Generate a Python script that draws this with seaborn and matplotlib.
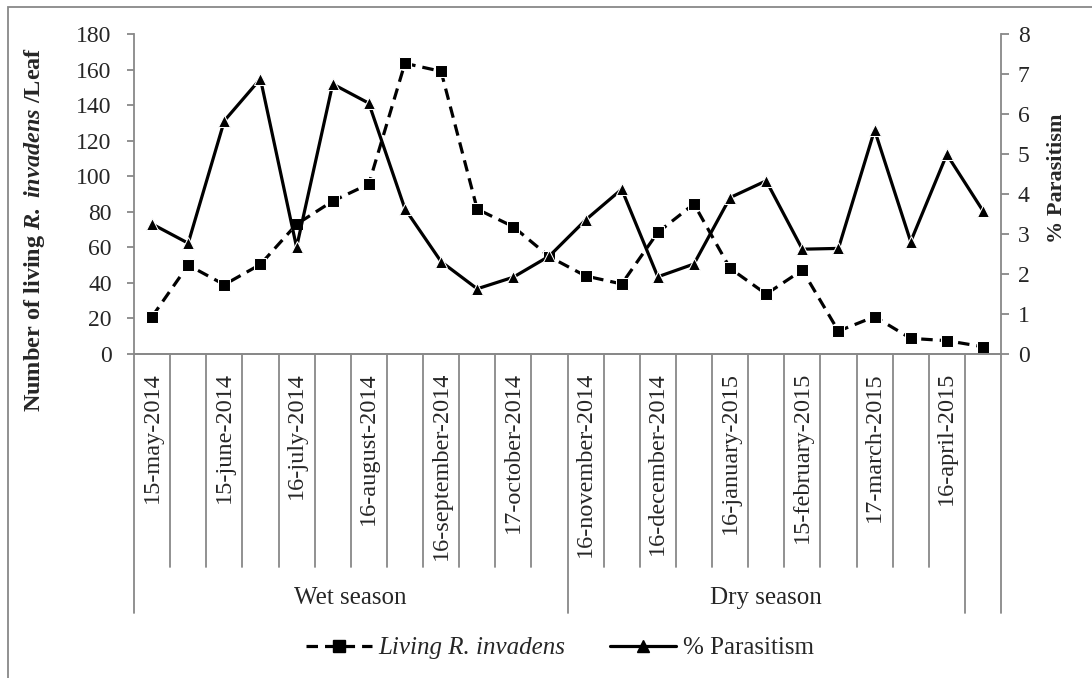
import numpy as np
import pandas as pd
import matplotlib.pyplot as plt
import matplotlib.transforms as mtransforms
from matplotlib.lines import Line2D
from matplotlib.patches import Rectangle
import seaborn as sns

# Data (24 sampling dates, labels shown every other date)
date_labels = ["15-may-2014", "15-june-2014", "16-july-2014", "16-august-2014",
               "16-september-2014", "17-october-2014", "16-november-2014",
               "16-december-2014", "16-january-2015", "15-february-2015",
               "17-march-2015", "16-april-2015"]
living = [21, 50, 39, 50.4, 73, 86, 95.6, 163.5, 159, 81.5, 71.6, 54.7,
          43.9, 39.4, 68.4, 84.4, 48.2, 33.7, 47.2, 12.9, 21, 8.8, 7.5, 4.1]
parasitism = [3.25, 2.77, 5.83, 6.88, 2.67, 6.75, 6.27, 3.63, 2.31, 1.63, 1.92, 2.45,
              3.35, 4.12, 1.93, 2.25, 3.91, 4.33, 2.62, 2.64, 5.6, 2.81, 4.99, 3.58]
season_names = ["Wet season", "Dry season", ""]
season_sizes = [12, 11, 1]

df = pd.DataFrame({"idx": np.arange(len(living)), "living": living, "parasitism": parasitism})

sns.set_style("white")
plt.rcParams["font.family"] = ["Liberation Serif", "DejaVu Serif"]
plt.rcParams["mathtext.fontset"] = "custom"
plt.rcParams["mathtext.rm"] = "Liberation Serif"
plt.rcParams["mathtext.it"] = "Liberation Serif:italic"
plt.rcParams["mathtext.bf"] = "Liberation Serif:bold"
plt.rcParams["mathtext.bfit"] = "Liberation Serif:italic:bold"

gray = "#888888"

fig = plt.figure(figsize=(10.92, 6.78), dpi=100)
ax = fig.add_axes([134 / 1092, 1 - 354 / 678, 867 / 1092, 320 / 678])
ax2 = ax.twinx()

sns.lineplot(data=df, x="idx", y="living", ax=ax, color="black", marker="s",
             markersize=8, linestyle="--", linewidth=2.3)
ax.lines[-1].set_dashes([3.6, 2.2])
sns.lineplot(data=df, x="idx", y="parasitism", ax=ax2, color="black", marker="^",
             markersize=9, linewidth=2.3)

ax.set_xlim(-0.5, len(living) - 0.5)
ax.set_ylim(0, 180)
ax.set_yticks(range(0, 181, 20))
ax2.set_ylim(0, 8)
ax2.set_yticks(range(0, 9))

for a in (ax, ax2):
    for s in a.spines.values():
        s.set_color(gray)
        s.set_linewidth(1.3)
    a.spines["top"].set_visible(False)
ax.spines["right"].set_visible(False)
ax2.spines["left"].set_visible(False)

ax.tick_params(axis="y", direction="out", length=5, width=1.3, color=gray,
               labelsize=17, pad=11, left=True)
ax2.tick_params(axis="y", direction="out", length=6, width=1.3, color=gray,
                labelsize=17, pad=6, right=True)

ax.set_xticks(df["idx"][::2], date_labels, rotation=90)
ax.tick_params(axis="x", length=0, pad=13, labelsize=17.5)
ax.set_xlabel("")

ax.set_ylabel(r"Number of living $\mathbfit{R.\ invadens}$ /Leaf",
              fontsize=17.5, fontweight="bold")
ax.yaxis.set_label_coords(-0.100, 0.39)
ax2.set_ylabel("% Parasitism", fontsize=16, fontweight="bold")
ax2.yaxis.set_label_coords(1.053, 0.55)

# multi-level category axis
trans = mtransforms.blended_transform_factory(ax.transData, ax.transAxes)
group_edges = np.concatenate([[0], np.cumsum(season_sizes)])
for i in range(len(living) + 1):
    bottom = -0.809 if i in group_edges else -0.666
    ax.plot([i - 0.5, i - 0.5], [0, bottom], transform=trans, color=gray,
            lw=1.3, clip_on=False)
for name, start, size in zip(season_names, group_edges[:-1], season_sizes):
    ax.text(start - 0.5 + size / 2, -0.7625, name, transform=trans,
            ha="center", va="center", fontsize=18)

handles = [Line2D([], [], color="black", marker="s", markersize=8, linestyle="--",
                  dashes=[3.6, 2.2], linewidth=2.3),
           Line2D([], [], color="black", marker="^", markersize=9, linewidth=2.3)]
leg = ax.legend(handles, ["Living R. invadens", "% Parasitism"], loc="center",
                bbox_to_anchor=(0.491, -0.919), ncol=2, frameon=False, fontsize=18,
                handlelength=2.65, columnspacing=1.8, handletextpad=0.25)
leg.get_texts()[0].set_fontstyle("italic")

fig.add_artist(Rectangle((8 / 1092, -0.1), 1.2, 1 - 7 / 678 + 0.1,
                         transform=fig.transFigure, fill=False,
                         edgecolor=gray, linewidth=1.3))

fig.savefig("out.png", dpi=100)
